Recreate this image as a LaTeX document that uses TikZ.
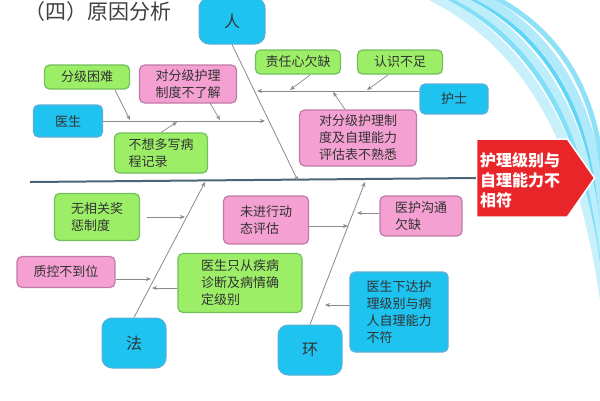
\documentclass[tikz,border=0pt]{standalone}
\usepackage{fontspec}
\setmainfont{Noto Sans CJK SC}
\usetikzlibrary{arrows.meta,shapes.arrows}
\definecolor{gfill}{HTML}{9BEE66}\definecolor{gline}{HTML}{6FBF5A}
\definecolor{pfill}{HTML}{F4A0D2}\definecolor{pline}{HTML}{C07AA8}
\definecolor{cfill}{HTML}{1EC3F0}\definecolor{cline}{HTML}{5BB0D8}
\definecolor{spine}{HTML}{4A6678}\definecolor{bone}{HTML}{8A8A8A}
\definecolor{headred}{HTML}{E8262A}
\tikzset{
 box/.style={rounded corners=5pt,line width=1.2pt,inner xsep=5pt,inner ysep=3pt,align=left,font=\fontsize{13}{17}\selectfont,text=black!80},
 gbox/.style={box,fill=gfill,draw=gline},
 pbox/.style={box,fill=pfill,draw=pline},
 cbox/.style={box,fill=cfill,draw=cline},
 big/.style={rounded corners=10pt,fill=cfill,draw=cline,line width=1pt,font=\fontsize{16}{18}\selectfont,text=black!80},
 arr/.style={draw=bone,line width=0.7pt,-{Stealth[length=5pt,width=4pt]}},
 bn/.style={draw=bone,line width=0.8pt}
}
\begin{document}
\begin{tikzpicture}[x=1pt,y=-1pt]
\useasboundingbox (0,0) rectangle (600,400);
\fill[white] (0,0) rectangle (600,400);
\foreach \d/\c/\w in {0/cfill!25/10,14/cfill!55/5,24/cfill!30/8,36/cfill!70/4,46/cfill!35/9,60/cfill!50/5}
  \draw[\c,line width=\w pt] (430+\d,-5) .. controls (540+\d,50) and (585+\d*0.3,160) .. (605,300-\d*1.5);
\node[font=\fontsize{21}{24}\selectfont,text=black!75] (title) at (98,12) {（四）原因分析};
\node[single arrow,fill=headred,draw=white,line width=1.5pt,minimum height=118pt,minimum width=78pt,single arrow head extend=0pt,single arrow tip angle=110,inner sep=2pt] (head) at (522,178) {};
\node[font=\bfseries\fontsize{16}{20}\selectfont,text=white,align=left] (headt) at (520,180) {护理级别与\\自理能力不\\相符};
\coordinate (sL) at (30,182);
\draw[spine,line width=2pt] (sL) -- (head.west);
\node[big,minimum width=66pt,minimum height=46pt] (ren) at (232,21) {人};
\node[big,minimum width=64pt,minimum height=50pt] (fa) at (134,343) {法};
\node[big,minimum width=64pt,minimum height=50pt] (huan) at (310,350) {环};
\coordinate (renE) at (298,181);
\coordinate (faE) at (205,182);
\coordinate (huanE) at (365,182);
\draw[bn,-{Stealth[length=5pt,width=4pt]}] (ren.south) -- (renE);
\draw[bn,-{Stealth[length=5pt,width=4pt]}] (fa.north) -- (faE);
\draw[bn,-{Stealth[length=5pt,width=4pt]}] (huan.north) -- (huanE);
\node[cbox,minimum width=69pt,minimum height=32pt] (ys) at (68,121) {医生};
\coordinate (ysE) at (265,121);
\draw[arr] (ys.east) -- (ysE);
\node[gbox,minimum width=85pt,minimum height=24pt] (fj) at (87,77) {分级困难};
\node[pbox,minimum width=97pt,minimum height=38pt] (dfj) at (188,84) {对分级护理\\制度不了解};
\node[gbox,minimum width=93pt,minimum height=40pt] (bx) at (161,153) {不想多写病\\程记录};
\coordinate (a1) at (130,120);\coordinate (a2) at (220,120);\coordinate (a3) at (177,122);
\draw[arr] (115,90) -- (a1);
\draw[arr] (210,103) -- (a2);
\draw[arr] (bx.north) -- (a3);
\node[cbox,minimum width=68pt,minimum height=30pt] (hs) at (454,99) {护士};
\coordinate (hsE) at (257,91);
\draw[arr] (hs.west|-hsE) -- (hsE);
\node[gbox,minimum width=85pt,minimum height=24pt] (zr) at (298,62) {责任心欠缺};
\node[gbox,minimum width=85pt,minimum height=24pt] (rs) at (400,62) {认识不足};
\node[pbox,minimum width=117pt,minimum height=56pt] (dfj2) at (358,138) {对分级护理制\\度及自理能力\\评估表不熟悉};
\coordinate (b1) at (290,90);\coordinate (b2) at (367,90);\coordinate (b3) at (333,92);
\draw[arr] (310,75) -- (b1);
\draw[arr] (388,75) -- (b2);
\draw[arr] (dfj2.north)++(-13,0) -- (b3);
\node[gbox,minimum width=85pt,minimum height=47pt] (wx) at (97,217) {无相关奖\\惩制度};
\node[pbox,minimum width=98pt,minimum height=31pt] (zk) at (66,272) {质控不到位};
\node[gbox,minimum width=124pt,minimum height=59pt] (ysz) at (240,283) {医生只从疾病\\诊断及病情确\\定级别};
\coordinate (c1) at (185,217);\coordinate (c2) at (151,279);\coordinate (c3) at (152,288);
\draw[arr] (147,217) -- (c1);
\draw[arr] (zk.east|-c2) -- (c2);
\draw[arr] (ysz.west|-c3) -- (c3);
\node[pbox,minimum width=85pt,minimum height=48pt] (wj) at (266,220) {未进行动\\态评估};
\node[pbox,minimum width=82pt,minimum height=40pt] (yh) at (421,216) {医护沟通\\欠缺};
\node[cbox,minimum width=98pt,minimum height=80pt] (ysx) at (399,312) {医生下达护\\理级别与病\\人自理能力\\不符};
\coordinate (d1) at (348,226);\coordinate (d2) at (357,213);\coordinate (d3) at (325,305);
\draw[arr] (wj.east|-d1) -- (d1);
\draw[arr] (yh.west|-d2) -- (d2);
\draw[arr] (ysx.west|-d3) -- (d3);
\end{tikzpicture}
\end{document}
